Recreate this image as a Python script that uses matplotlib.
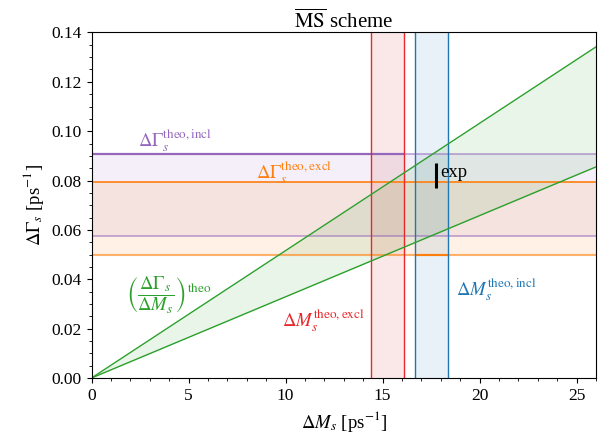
import numpy as np
import matplotlib
matplotlib.use("Agg")
import matplotlib.pyplot as plt

plt.rcParams["font.family"] = "serif"
plt.rcParams["font.serif"] = ["Liberation Serif", "DejaVu Serif"]
plt.rcParams["mathtext.fontset"] = "stix"

# theory bands for Delta Gamma_s [ps^-1]
dgamma_incl = [0.0574, 0.0908]
dgamma_excl = [0.0499, 0.0794]

# theory bands for Delta M_s [ps^-1]
dm_excl = [14.43, 16.10]
dm_incl = [16.67, 18.36]

# ratio (DeltaGamma/DeltaM)^theo, lower and upper
ratio = [0.00329, 0.00516]

# experiment
dm_exp = 17.74
dgamma_exp = 0.0821
dgamma_exp_err = 0.0050

x_range = np.array([0, 26])

fig = plt.figure(figsize=(6.02, 4.33), dpi=100)
ax = fig.add_axes([0.152, 0.127, 0.838, 0.798])

# horizontal bands
ax.axhspan(dgamma_incl[0], dgamma_incl[1], color="tab:purple", alpha=0.1, lw=0)
ax.axhspan(dgamma_excl[0], dgamma_excl[1], color="tab:orange", alpha=0.1, lw=0)
for y in dgamma_incl:
    ax.axhline(y, color="tab:purple", lw=1.2, alpha=0.6)
ax.hlines(dgamma_incl[1], 0, dm_excl[1], color="tab:purple", lw=1.6)
ax.axhline(dgamma_excl[1], color="tab:orange", lw=1.2)
ax.axhline(dgamma_excl[0], color="tab:orange", lw=1.5, alpha=0.6)
ax.hlines(dgamma_excl[0], dm_incl[0], dm_incl[1], color="tab:orange", lw=1.5)

# vertical bands
ax.axvspan(dm_excl[0], dm_excl[1], color="tab:red", alpha=0.1, lw=0)
ax.axvspan(dm_incl[0], dm_incl[1], color="tab:blue", alpha=0.1, lw=0)
for x in dm_excl:
    ax.axvline(x, color="#e8282b", lw=1.0)
for x in dm_incl:
    ax.axvline(x, color="tab:blue", lw=1.0)

# ratio wedge
ax.fill_between(x_range, ratio[0] * x_range, ratio[1] * x_range,
                color="tab:green", alpha=0.1, lw=0)
ax.plot(x_range, ratio[0] * x_range, color="tab:green", lw=1.0)
ax.plot(x_range, ratio[1] * x_range, color="tab:green", lw=1.0)

# experiment
ax.errorbar(dm_exp, dgamma_exp, yerr=dgamma_exp_err, fmt="none",
            ecolor="black", elinewidth=2.2, capsize=0)
ax.text(dm_exp + 0.25, dgamma_exp + 0.001, "exp", fontsize=13.5,
        va="center", ha="left")

# labels
ax.text(2.4, 0.0963, r"$\Delta\Gamma_s^{\mathrm{theo,incl}}$",
        color="tab:purple", fontsize=13.5, va="center", ha="left")
ax.text(8.5, 0.0832, r"$\Delta\Gamma_s^{\mathrm{theo,excl}}$",
        color="tab:orange", fontsize=13.5, va="center", ha="left")
ax.text(1.8, 0.0335,
        r"$\left(\dfrac{\Delta\Gamma_s}{\Delta M_s}\right)^{\mathrm{theo}}$",
        color="tab:green", fontsize=13.5, va="center", ha="left")
ax.text(9.8, 0.0232, r"$\Delta M_s^{\mathrm{theo,excl}}$",
        color="#e8282b", fontsize=13.5, va="center", ha="left")
ax.text(18.8, 0.0357, r"$\Delta M_s^{\mathrm{theo,incl}}$",
        color="tab:blue", fontsize=13.5, va="center", ha="left")

ax.set_xlim(0, 26)
ax.set_ylim(0, 0.14)
ax.set_xticks([0, 5, 10, 15, 20, 25])
ax.set_xticks(np.arange(0, 27, 1), minor=True)
ax.set_yticks(np.arange(0, 0.141, 0.02))
ax.set_yticks(np.arange(0, 0.141, 0.005), minor=True)
ax.set_yticklabels([f"{v:.2f}" for v in np.arange(0, 0.141, 0.02)])
ax.tick_params(which="both", direction="out", top=False, right=False, labelsize=12.5)
ax.tick_params(which="minor", length=2.5)

ax.set_xlabel(r"$\Delta M_s$ [ps$^{-1}$]", fontsize=13.5)
ax.set_ylabel(r"$\Delta\Gamma_s$ [ps$^{-1}$]", fontsize=13.5)
ax.set_title(r"$\overline{\mathrm{MS}}$ scheme", fontsize=15, pad=3)

fig.savefig("out.png", dpi=100)
